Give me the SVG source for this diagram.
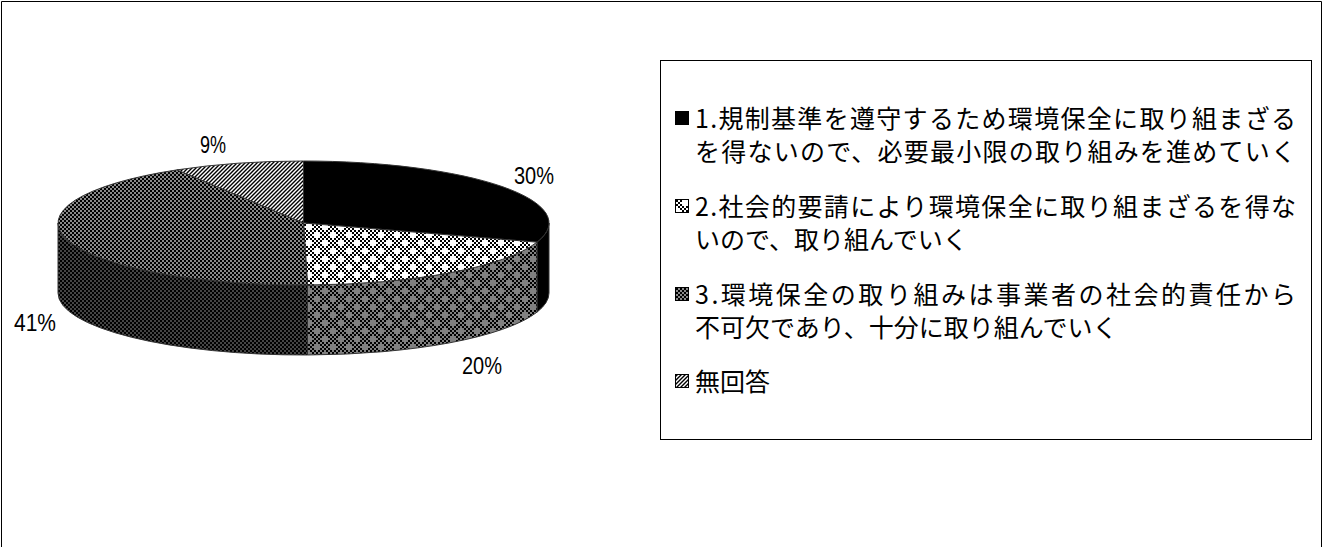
<svg xmlns="http://www.w3.org/2000/svg" width="1323" height="547" viewBox="0 0 1323 547">
<style>
.lg{font-family:"Noto Sans CJK JP","Noto Sans",sans-serif;font-size:25px;fill:#000}
.pc{font-family:"Liberation Sans",Arial,sans-serif;font-size:24px;fill:#000}
.edge{stroke:#333;stroke-width:1;stroke-linejoin:round}
.mk{stroke:#000;stroke-width:1}
</style>
<defs>
<pattern id="ckW" width="4" height="4" patternUnits="userSpaceOnUse"><rect width="4" height="4" fill="#fff"/><rect width="2" height="2" fill="#000"/><rect x="2" y="2" width="2" height="2" fill="#000"/></pattern>
<pattern id="ckG" width="4" height="4" patternUnits="userSpaceOnUse"><rect width="4" height="4" fill="#808080"/><rect width="2" height="2" fill="#000"/><rect x="2" y="2" width="2" height="2" fill="#000"/></pattern>
<pattern id="p20top" width="16" height="16" patternUnits="userSpaceOnUse"><rect width="16" height="16" fill="url(#ckW)"/><rect x="2" y="2" width="6" height="2" fill="#fff"/><rect x="4" y="0" width="2" height="6" fill="#fff"/><rect x="10" y="10" width="6" height="2" fill="#fff"/><rect x="12" y="8" width="2" height="6" fill="#fff"/></pattern>
<pattern id="p20side" width="16" height="16" patternUnits="userSpaceOnUse"><rect width="16" height="16" fill="url(#ckG)"/><rect x="2" y="2" width="6" height="2" fill="#808080"/><rect x="4" y="0" width="2" height="6" fill="#808080"/><rect x="10" y="10" width="6" height="2" fill="#808080"/><rect x="12" y="8" width="2" height="6" fill="#808080"/></pattern>
<pattern id="p41top" width="4" height="4" patternUnits="userSpaceOnUse"><rect width="4" height="4" fill="#8a8a8a"/><rect width="2" height="2" fill="#000"/><rect x="2" y="2" width="2" height="2" fill="#000"/></pattern>
<pattern id="p41side" width="4" height="4" patternUnits="userSpaceOnUse"><rect width="4" height="4" fill="#454545"/><rect width="2" height="2" fill="#000"/><rect x="2" y="2" width="2" height="2" fill="#000"/></pattern>
<pattern id="p9" width="4" height="4" patternUnits="userSpaceOnUse"><rect width="4" height="4" fill="#fff"/><path d="M-1,1 L1,-1 M0,4 L4,0 M3,5 L5,3" stroke="#000" stroke-width="1.4"/></pattern>
</defs>
<rect width="1323" height="547" fill="#fff"/>
<path d="M1.5,547 V1.5 H1321.5 V547" fill="none" stroke="#000" stroke-width="1"/>

<g id="pie">
  <g id="slice-30">
    <path class="edge" fill="#000" d="M549,223 A245.5,62 0 0 1 536.99,242.16 L536.99,312.16 A245.5,62 0 0 0 549,293 Z"/>
    <path class="edge" fill="#000" d="M303.5,223 L303.5,161 A245.5,62 0 0 1 536.99,242.16 Z"/>
  </g>
  <g id="slice-20">
    <path class="edge" fill="url(#p20side)" d="M536.99,242.16 A245.5,62 0 0 1 307.48,284.99 L307.48,354.99 A245.5,62 0 0 0 536.99,312.16 Z"/>
    <path class="edge" fill="url(#p20top)" d="M303.5,223 L536.99,242.16 A245.5,62 0 0 1 307.48,284.99 Z"/>
  </g>
  <g id="slice-41">
    <path class="edge" fill="url(#p41side)" d="M307.48,284.99 A245.5,62 0 0 1 58,223 L58,293 A245.5,62 0 0 0 307.48,354.99 Z"/>
    <path class="edge" fill="url(#p41top)" d="M303.5,223 L307.48,284.99 A245.5,62 0 0 1 177.06,169.86 Z"/>
  </g>
  <g id="slice-9">
    <path class="edge" fill="url(#p9)" d="M303.5,223 L177.06,169.86 A245.5,62 0 0 1 303.5,161 Z"/>
  </g>
</g>

<g id="labels">
  <text class="pc" x="200" y="153" textLength="26" lengthAdjust="spacingAndGlyphs">9%</text>
  <text class="pc" x="514" y="184" textLength="40" lengthAdjust="spacingAndGlyphs">30%</text>
  <text class="pc" x="462" y="374" textLength="40" lengthAdjust="spacingAndGlyphs">20%</text>
  <text class="pc" x="14" y="331" textLength="42" lengthAdjust="spacingAndGlyphs">41%</text>
</g>

<g id="legend">
  <rect x="660.5" y="60.5" width="651" height="379" fill="#fff" stroke="#000" stroke-width="1"/>
  <g id="legend-1">
    <rect class="mk" x="675.5" y="111.5" width="13" height="13" fill="#000"/>
    <text class="lg" x="695" y="127.5" textLength="601">1.規制基準を遵守するため環境保全に取り組まざる</text>
    <text class="lg" x="695" y="160.5" textLength="601">を得ないので、必要最小限の取り組みを進めていく</text>
  </g>
  <g id="legend-2">
    <rect class="mk" x="675.5" y="199.5" width="13" height="13" fill="url(#p20top)"/>
    <text class="lg" x="695" y="215.5" textLength="601">2.社会的要請により環境保全に取り組まざるを得な</text>
    <text class="lg" x="695" y="248.5">いので、取り組んでいく</text>
  </g>
  <g id="legend-3">
    <rect class="mk" x="675.5" y="287.5" width="13" height="13" fill="url(#p41top)"/>
    <text class="lg" x="695" y="303.5" textLength="601">3.環境保全の取り組みは事業者の社会的責任から</text>
    <text class="lg" x="695" y="336.5">不可欠であり、十分に取り組んでいく</text>
  </g>
  <g id="legend-4">
    <rect class="mk" x="675.5" y="374.5" width="13" height="13" fill="url(#p9)"/>
    <text class="lg" x="695" y="390.5">無回答</text>
  </g>
</g>
</svg>
